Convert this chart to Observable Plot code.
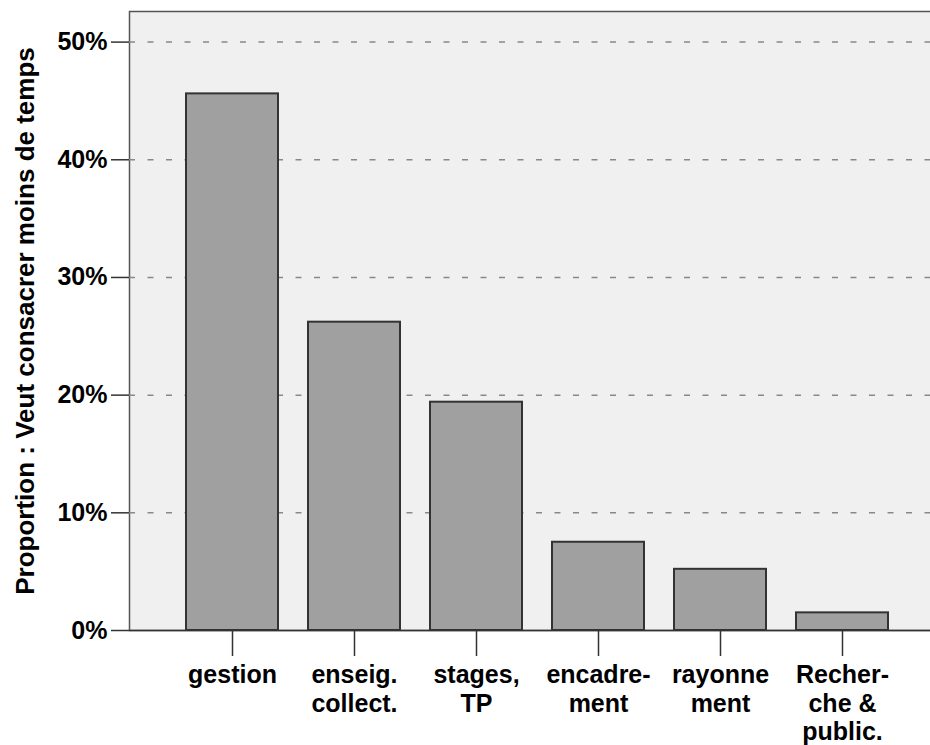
<!DOCTYPE html>
<html><head><meta charset="utf-8">
<script src="https://cdn.jsdelivr.net/npm/d3@7"></script>
<script src="https://cdn.jsdelivr.net/npm/@observablehq/plot@0.6"></script>
<style>body{margin:0;background:#fff;overflow:hidden}</style>
</head><body><div id="chart"></div>
<script>
const categories = ["gestion","enseig. collect.","stages, TP","encadrement","rayonnement","Recherche & public."];
const tickLabels = ["gestion","enseig.\ncollect.","stages,\nTP","encadre-\nment","rayonne\nment","Recher-\nche &\npublic."];
const values = [45.6, 26.2, 19.4, 7.5, 5.2, 1.5];
const yTicks = [0, 10, 20, 30, 40, 50];
const yLabel = "Proportion : Veut consacrer moins de temps";

const data = categories.map((c, i) => ({category: c, value: values[i]}));
const font = "'Liberation Sans', Arial, sans-serif";
const chart = Plot.plot({
  width: 930, height: 745,
  marginLeft: 129, marginTop: 11, marginBottom: 115, marginRight: -2,
  style: {fontFamily: font, fontSize: "25px", fontWeight: "bold", color: "#000", background: "#fff"},
  x: {domain: categories, paddingInner: 0.25, paddingOuter: 0.125, insetLeft: 40.7, insetRight: 28.7, label: null},
  y: {domain: [0, 52.6], label: null},
  marks: [
    Plot.frame({fill: "#f0f0f0", stroke: "#555", strokeWidth: 1.5}),
    Plot.gridY(yTicks.slice(1), {stroke: "#888", strokeOpacity: 1, strokeDasharray: "6,12.5", strokeWidth: 1.5}),
    Plot.barY(data, {x: "category", y: "value", fill: "#a0a0a0", stroke: "#333", strokeWidth: 2}),
    Plot.ruleY([0], {stroke: "#333", strokeWidth: 1.5}),
    Plot.axisY({ticks: yTicks, tickFormat: d => d + "%", tickSize: 18, tickPadding: 4, stroke: "#333", strokeWidth: 1.5, label: null, fontSize: 25}),
    Plot.axisX({tickFormat: d => tickLabels[categories.indexOf(d)], tickSize: 26, tickPadding: 6, lineHeight: 1.15, label: null, stroke: "#333", strokeWidth: 1.5, fontSize: 25}),
    Plot.text([yLabel], {text: d => d, frameAnchor: "left", textAnchor: "middle", lineAnchor: "middle", rotate: -90, dx: -104, fontSize: 26, fontWeight: "bold"})
  ]
});
document.getElementById("chart").appendChild(chart);
</script>
</body></html>
